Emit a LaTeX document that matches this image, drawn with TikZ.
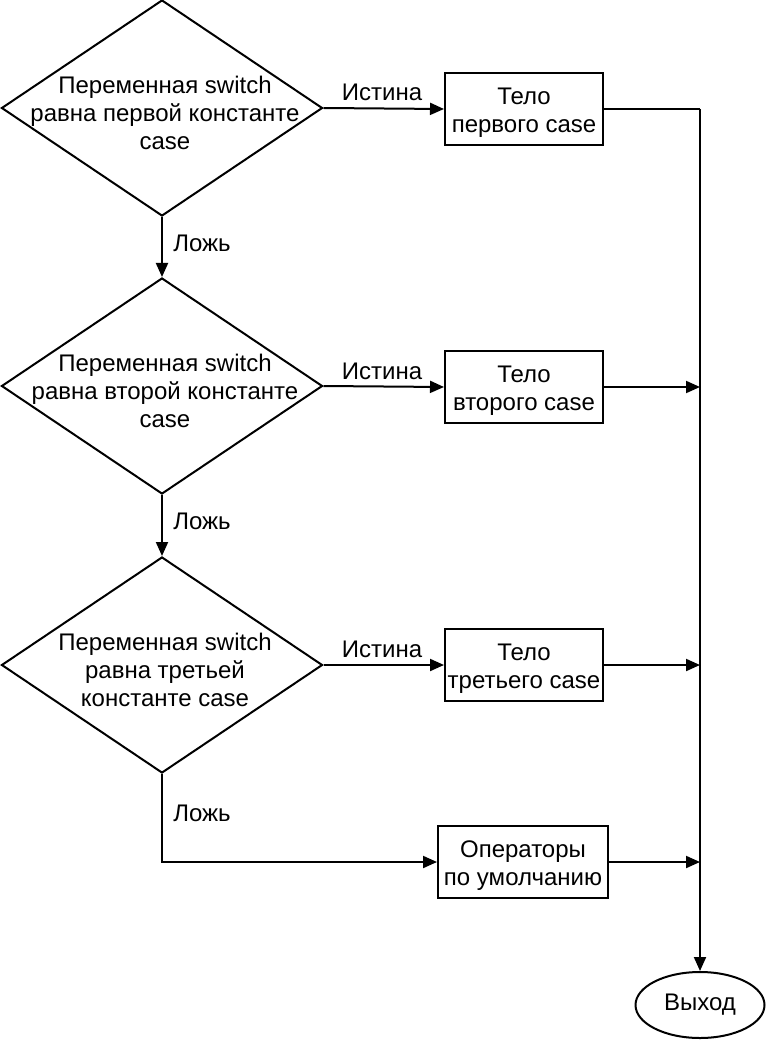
\documentclass[tikz,border=0pt]{standalone}
\usepackage{fontspec}
\setmainfont{Liberation Sans}
\usetikzlibrary{shapes.geometric,arrows.meta}
\begin{document}
\begin{tikzpicture}[x=1pt,y=-1pt,
  every node/.style={font=\fontsize{24}{28}\selectfont},
  line/.style={line width=2pt},
  arr/.style={line width=2pt,-{Triangle[length=14pt,width=12pt]}},
  dia/.style={draw,line width=2pt,shape=diamond,minimum width=321pt,minimum height=216pt,inner sep=0pt},
  dtext/.style={align=center,inner sep=0pt},
  box/.style={draw,line width=2pt,minimum width=158pt,minimum height=72pt,inner sep=0pt},
  btext/.style={align=center,inner sep=0pt},
  term/.style={draw,line width=2pt,ellipse,minimum width=129pt,minimum height=66pt,inner sep=0pt},
  lbl/.style={inner sep=0pt}]
\useasboundingbox (0,0) rectangle (769,1040);
% decisions
\node[dia] (d1) at (162,108) {};
\node[dtext] (t1) at (165,113) {Переменная switch\\равна первой константе\\case};
\node[dia] (d2) at (162,386) {};
\node[dtext] (t2) at (165,391) {Переменная switch\\равна второй константе\\case};
\node[dia] (d3) at (162,665) {};
\node[dtext] (t3) at (165,670) {Переменная switch\\равна третьей\\константе case};
% bodies
\node[box] (b1) at (524,109) {};
\node[btext] (bt1) at (524,113) {Тело\\первого case};
\node[box] (b2) at (524,387) {};
\node[btext] (bt2) at (524,391) {Тело\\второго case};
\node[box] (b3) at (524,665) {};
\node[btext] (bt3) at (524,669) {Тело\\третьего case};
\node[box,minimum width=170pt] (b4) at (523,862) {};
\node[btext] (bt4) at (523,866) {Операторы\\по умолчанию};
\node[term] (ex) at (700,1005) {Выход};
% junction coordinates on the collector line
\coordinate (c1) at (700,109);
\coordinate (c2) at (700,387);
\coordinate (c3) at (700,665);
\coordinate (c4) at (700,862);
\coordinate (k4) at (162,862);
% connectors
\draw[arr] (d1.east) -- (b1.west);
\draw[arr] (d2.east) -- (b2.west);
\draw[arr] (d3.east) -- (b3.west);
\draw[arr] (d1.south) -- (d2.north);
\draw[arr] (d2.south) -- (d3.north);
\draw[arr] (d3.south) -- (k4) -- (b4.west);
\draw[line] (b1.east) -- (c1);
\draw[arr] (c1) -- (ex.north);
\draw[arr] (b2.east) -- (c2);
\draw[arr] (b3.east) -- (c3);
\draw[arr] (b4.east) -- (c4);
% labels
\node[lbl] (l1) at (382,92) {Истина};
\node[lbl] (l2) at (382,371) {Истина};
\node[lbl] (l3) at (382,649) {Истина};
\node[lbl] (f1) at (202,243) {Ложь};
\node[lbl] (f2) at (202,521) {Ложь};
\node[lbl] (f3) at (202,813) {Ложь};
\end{tikzpicture}
\end{document}
